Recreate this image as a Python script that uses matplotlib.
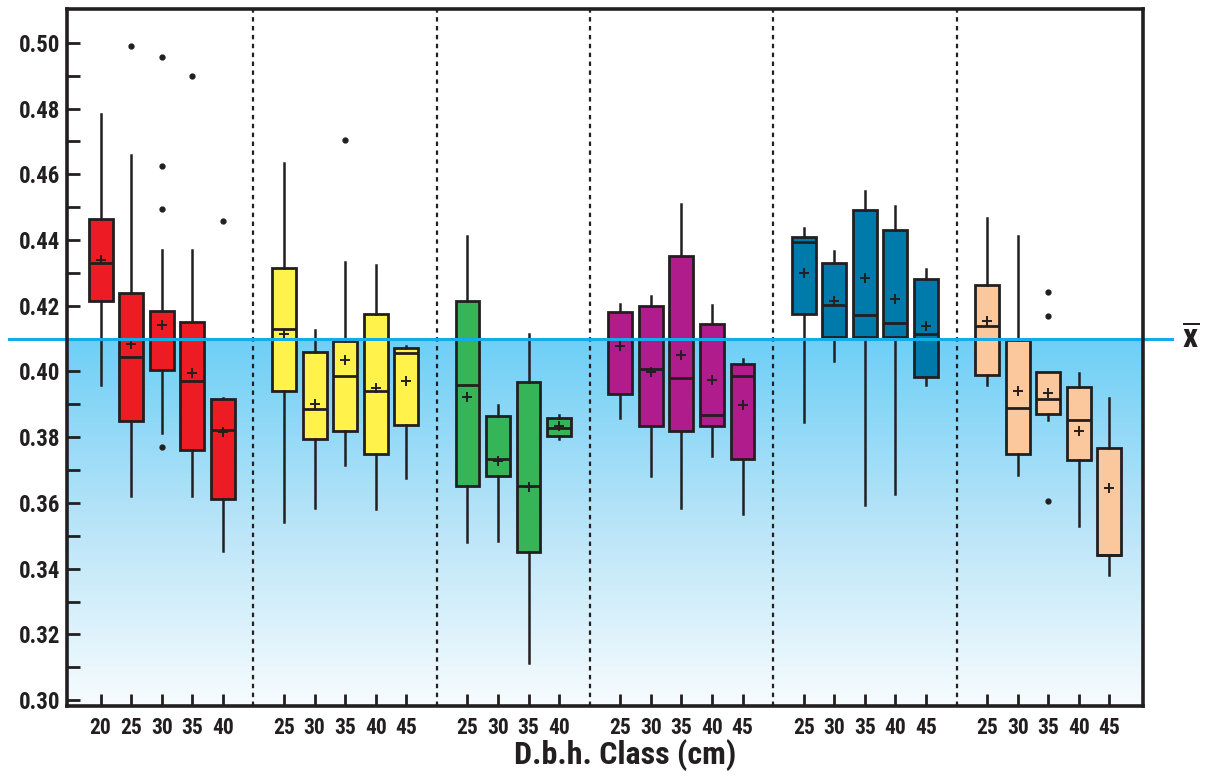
import matplotlib
matplotlib.use("Agg")
import matplotlib.pyplot as plt
import matplotlib.transforms as mtransforms
from matplotlib.colors import LinearSegmentedColormap
import numpy as np

plt.rcParams['font.family'] = ['Roboto Condensed', 'Barlow Semi Condensed', 'DejaVu Sans']
plt.rcParams['font.weight'] = 'bold'
plt.rcParams['mathtext.fontset'] = 'custom'
plt.rcParams['mathtext.bf'] = 'Roboto Condensed:bold'

# ---- data ----
group_starts = [1, 7, 13, 18, 24, 30]
divider_positions = [6, 12, 17, 23, 29]
group_colors = ['#ED1C24', '#FFF24A', '#35B458', '#B01C8B', '#0079AB', '#FAC89C']

dbh_g1 = [20, 25, 30, 35, 40]
dbh_g2 = [25, 30, 35, 40, 45]
dbh_g3 = [25, 30, 35, 40]
dbh_g4 = [25, 30, 35, 40, 45]
dbh_g5 = [25, 30, 35, 40, 45]
dbh_g6 = [25, 30, 35, 40, 45]

# each row: whisker low, q1, median, mean, q3, whisker high
stats_g1 = [
    [0.3959, 0.4215, 0.4331, 0.4338, 0.4465, 0.4783],
    [0.3621, 0.3850, 0.4044, 0.4083, 0.4238, 0.4659],
    [0.3813, 0.4004, 0.4100, 0.4141, 0.4184, 0.4371],
    [0.3621, 0.3761, 0.3971, 0.3996, 0.4150, 0.4371],
    [0.3454, 0.3613, 0.3822, 0.3817, 0.3915, 0.3918],
]
fliers_g1 = [[], [0.4990], [0.4956, 0.4626, 0.4493, 0.3770], [0.4899], [0.4458]]

stats_g2 = [
    [0.3543, 0.3941, 0.4128, 0.4113, 0.4316, 0.4633],
    [0.3586, 0.3796, 0.3886, 0.3901, 0.4058, 0.4125],
    [0.3715, 0.3820, 0.3985, 0.4036, 0.4093, 0.4333],
    [0.3580, 0.3750, 0.3941, 0.3951, 0.4174, 0.4324],
    [0.3677, 0.3837, 0.4055, 0.3972, 0.4070, 0.4078],
]
fliers_g2 = [[], [], [0.4703], [], []]

stats_g3 = [
    [0.3482, 0.3651, 0.3958, 0.3923, 0.4214, 0.4413],
    [0.3485, 0.3682, 0.3733, 0.3728, 0.3866, 0.3898],
    [0.3112, 0.3451, 0.3652, 0.3649, 0.3967, 0.4113],
    [0.3796, 0.3804, 0.3829, 0.3835, 0.3858, 0.3867],
]
fliers_g3 = [[], [], [], []]

stats_g4 = [
    [0.3859, 0.3932, 0.4100, 0.4077, 0.4182, 0.4204],
    [0.3682, 0.3833, 0.4007, 0.3999, 0.4198, 0.4229],
    [0.3585, 0.3820, 0.3980, 0.4051, 0.4352, 0.4511],
    [0.3743, 0.3835, 0.3868, 0.3973, 0.4145, 0.4202],
    [0.3566, 0.3734, 0.3987, 0.3898, 0.4022, 0.4037],
]
fliers_g4 = [[], [], [], [], []]

stats_g5 = [
    [0.3846, 0.4176, 0.4395, 0.4299, 0.4409, 0.4437],
    [0.4033, 0.4105, 0.4202, 0.4215, 0.4330, 0.4367],
    [0.3593, 0.4105, 0.4173, 0.4283, 0.4491, 0.4550],
    [0.3627, 0.4105, 0.4146, 0.4222, 0.4429, 0.4505],
    [0.3959, 0.3984, 0.4115, 0.4137, 0.4282, 0.4313],
]
fliers_g5 = [[], [], [], [], []]

stats_g6 = [
    [0.3958, 0.3989, 0.4139, 0.4153, 0.4262, 0.4467],
    [0.3685, 0.3750, 0.3888, 0.3942, 0.4096, 0.4413],
    [0.3852, 0.3872, 0.3916, 0.3936, 0.3997, 0.3997],
    [0.3531, 0.3730, 0.3852, 0.3819, 0.3954, 0.3994],
    [0.3380, 0.3443, 0.3443, 0.3644, 0.3768, 0.3918],
]
fliers_g6 = [[], [], [0.4243, 0.4170, 0.3607], [], []]

grand_mean = 0.410
y_ticks = [0.30, 0.32, 0.34, 0.36, 0.38, 0.40, 0.42, 0.44, 0.46, 0.48, 0.50]

all_dbh = [dbh_g1, dbh_g2, dbh_g3, dbh_g4, dbh_g5, dbh_g6]
all_stats = [stats_g1, stats_g2, stats_g3, stats_g4, stats_g5, stats_g6]
all_fliers = [fliers_g1, fliers_g2, fliers_g3, fliers_g4, fliers_g5, fliers_g6]

# ---- figure ----
fig = plt.figure(figsize=(12.09, 7.76), dpi=100)
ax = fig.add_axes([0.0554, 0.0902, 0.8900, 0.8982])
xlim = (-0.1, 35.1)
ylim = (0.2982, 0.5103)
ax.set_xlim(*xlim)
ax.set_ylim(*ylim)

# gradient below grand mean
cmap = LinearSegmentedColormap.from_list('sky', ['#F7FCFE', '#B8E4F8', '#6DCFF6'])
grad = np.linspace(0, 1, 256).reshape(-1, 1)
ax.imshow(grad, cmap=cmap, origin='lower', aspect='auto',
          extent=[xlim[0], xlim[1], ylim[0], grand_mean], zorder=0,
          interpolation='bicubic')

tick_pos = []
tick_lab = []
for start, dbh, stats, fliers, col in zip(group_starts, all_dbh, all_stats, all_fliers, group_colors):
    bxstats = []
    pos = []
    for i, (s, fl) in enumerate(zip(stats, fliers)):
        bxstats.append(dict(whislo=s[0], q1=s[1], med=s[2], mean=s[3], q3=s[4],
                            whishi=s[5], fliers=fl))
        pos.append(start + i)
    ax.bxp(bxstats, positions=pos, widths=0.78, showmeans=True, showcaps=False,
           showfliers=True, patch_artist=True, manage_ticks=False,
           boxprops=dict(facecolor=col, edgecolor='#231F20', linewidth=2.0),
           whiskerprops=dict(color='#231F20', linewidth=1.8),
           medianprops=dict(color='#231F20', linewidth=2.0),
           meanprops=dict(marker='+', markeredgecolor='#231F20', markersize=7,
                          markeredgewidth=1.4),
           flierprops=dict(marker='o', markerfacecolor='#231F20',
                           markeredgecolor='#231F20', markersize=3.5),
           zorder=3)
    tick_pos.extend(pos)
    tick_lab.extend([str(d) for d in dbh])

for xd in divider_positions:
    ax.axvline(xd, color='#231F20', linewidth=1.6, linestyle=(0, (2, 2)), zorder=2)

# grand mean line extending beyond axes
trans = mtransforms.blended_transform_factory(ax.transAxes, ax.transData)
ax.plot([-0.054, 1.027], [grand_mean, grand_mean], transform=trans,
        color='#12ACE8', linewidth=2.2, clip_on=False, zorder=5)
ax.text(1.0445, grand_mean, r'$\overline{\mathbf{x}}$', transform=trans,
        ha='center', va='center', fontsize=24, color='#231F20')

ax.set_xticks(tick_pos)
ax.set_xticklabels(tick_lab, fontsize=15.5, fontweight='bold')
ax.set_yticks(y_ticks)
ax.set_yticklabels([f'{v:.2f}' for v in y_ticks], fontsize=16.5, fontweight='bold')
ax.set_yticks(np.arange(0.31, 0.50, 0.02), minor=True)
ax.tick_params(axis='both', which='both', direction='in', length=9, width=2,
               color='#231F20', labelcolor='#231F20')
ax.tick_params(axis='x', pad=8)
ax.tick_params(axis='y', pad=5)
for sp in ax.spines.values():
    sp.set_linewidth(2.6)
    sp.set_color('#231F20')
    sp.set_zorder(6)

ax.set_xlabel('D.b.h. Class (cm)', fontsize=23, fontweight='bold', color='#231F20')
ax.xaxis.set_label_coords(0.5186, -0.048)
ax.xaxis.label.set_va('top')

fig.savefig('out.png', dpi=100)
